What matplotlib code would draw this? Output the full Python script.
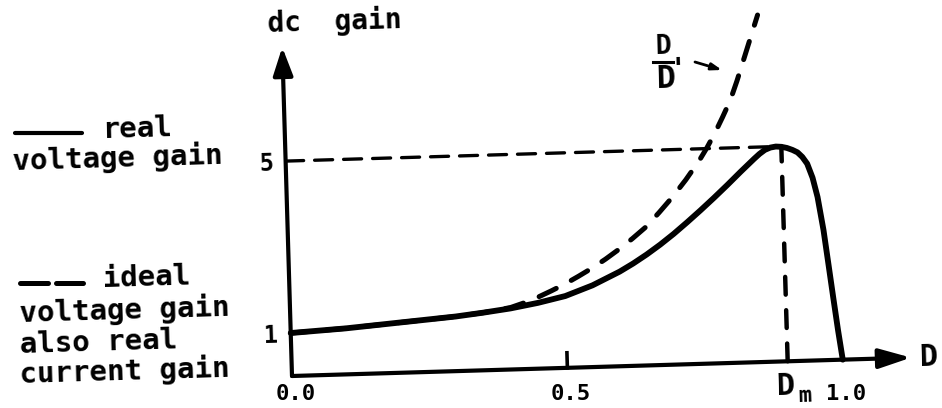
import numpy as np
import matplotlib.pyplot as plt
from matplotlib.transforms import Affine2D
from matplotlib.lines import Line2D
from matplotlib.patches import FancyArrowPatch

W, H = 942, 408

# duty cycle D and dc gain
d_real = [0.0, 0.10, 0.20, 0.30, 0.35, 0.40, 0.45, 0.50, 0.55, 0.60, 0.625,
          0.65, 0.675, 0.70, 0.725, 0.75, 0.775, 0.80, 0.825, 0.85, 0.86,
          0.87, 0.88, 0.89, 0.90, 0.91, 0.92, 0.929, 0.9375, 0.946, 0.955,
          0.963, 0.972, 0.979, 0.986, 0.993, 1.0]
g_real = [1.0, 1.07, 1.17, 1.27, 1.34, 1.42, 1.53, 1.67, 1.90, 2.20, 2.38,
          2.58, 2.80, 3.04, 3.30, 3.57, 3.85, 4.14, 4.44, 4.73, 4.84,
          4.93, 4.98, 5.0, 4.99, 4.96, 4.91, 4.85, 4.74, 4.58, 4.25,
          3.80, 3.03, 2.25, 1.46, 0.69, 0.0]

d_ideal = [0.0, 0.10, 0.20, 0.30, 0.35, 0.40, 0.425, 0.45, 0.475, 0.50,
           0.525, 0.55, 0.575, 0.60, 0.625, 0.65, 0.675, 0.70, 0.725, 0.75,
           0.765, 0.78, 0.795, 0.81, 0.823, 0.836, 0.85, 0.864]
g_ideal = [1.0, 1.07, 1.17, 1.27, 1.34, 1.44, 1.54, 1.66, 1.80, 1.95,
           2.12, 2.30, 2.50, 2.72, 2.96, 3.22, 3.55, 3.90, 4.29, 4.72,
           5.02, 5.35, 5.72, 6.11, 6.55, 7.03, 7.55, 8.07]

d_peak, g_peak = 0.89, 5.0
d_m = 0.90
x_ticks = [0.0, 0.5, 1.0]
x_tick_labels = ['0.0', '0.5', '1.0']
y_ticks = [1, 5]
y_tick_labels = ['1', '5']

mono = 'DejaVu Sans Mono'
fw = 'bold'

fig = plt.figure(figsize=(W / 100, H / 100), dpi=100)
ax = fig.add_axes([0, 0, 1, 1])
ax.axis('off')

# the scan is a bit tilted, so draw in a rotated frame
tilt = 1.7
rot = ax.transData + Affine2D().rotate_deg_around(292, H - 376, tilt)

# axes with arrow heads
ax.annotate('', xy=(0, 7.65), xytext=(0, 0), xycoords=rot, textcoords=rot,
            arrowprops=dict(arrowstyle='-|>,head_length=1.7,head_width=0.6',
                            mutation_scale=10, lw=3, color='k',
                            shrinkA=0, shrinkB=0))
ax.annotate('', xy=(1.124, 0), xytext=(0, 0), xycoords=rot, textcoords=rot,
            arrowprops=dict(arrowstyle='-|>,head_length=1.95,head_width=0.6',
                            mutation_scale=10, lw=3, color='k',
                            shrinkA=0, shrinkB=0))
ax.plot([0.5, 0.5], [0, 0.35], transform=rot, color='k', lw=2.6)

# curves
ax.plot(d_ideal, g_ideal, transform=rot, color='k', lw=3.6,
        dashes=(3.8, 3.4), dash_capstyle='round', zorder=2)
ax.plot(d_real, g_real, transform=rot, color='k', lw=4.2,
        solid_capstyle='round', solid_joinstyle='round', zorder=3)

# helper lines at the peak
ax.plot([0, d_peak], [g_peak, g_peak], transform=rot, color='k', lw=2.4,
        dashes=(5.4, 3.3), dash_capstyle='round')
ax.plot([d_m, d_m], [0, g_peak], transform=rot, color='k', lw=3.2,
        dashes=(4, 3.5), dash_capstyle='round')

# tick labels
for x, lab in zip(x_ticks, x_tick_labels):
    ax.text(x + 0.006, -0.56, lab, ha='center', va='baseline',
            fontsize=16, family=mono, weight=fw)
for y, lab in zip(y_ticks, y_tick_labels):
    ax.text(-0.036, y - 0.04, lab, transform=rot, ha='center', va='center',
            rotation=tilt, rotation_mode='anchor', fontsize=17,
            family=mono, weight=fw)
ax.text(d_m - 0.005, -0.58, 'D', transform=rot, ha='center', va='center',
        rotation=tilt, rotation_mode='anchor', fontsize=22, family=mono,
        weight=fw)
ax.text(d_m + 0.029, -0.82, 'm', transform=rot, ha='center', va='center',
        rotation=tilt, rotation_mode='anchor', fontsize=16, family=mono,
        weight=fw)
ax.text(1.14, 0, 'D', transform=rot, ha='left', va='center',
        rotation=tilt, rotation_mode='anchor', fontsize=22, family=mono,
        weight=fw)

ax.set_xlim(-292 / 551, (W - 292) / 551)
ax.set_ylim((376 - H) / 43, 376 / 43)


def ftext(x, y, s, size=21, **kw):
    fig.text(x / W, 1 - y / H, s, fontsize=size, family=mono, weight=fw,
             rotation=tilt, rotation_mode='anchor', **kw)


def fline(xs, ys, **kw):
    fig.add_artist(Line2D([x / W for x in xs], [1 - y / H for y in ys],
                          transform=fig.transFigure, color='k', **kw))


ftext(268, 32, 'dc  gain', size=20, va='baseline')

# legend block on the left
fline([15, 82], [133, 133], lw=3, solid_capstyle='round')
ftext(103, 138, 'real', va='baseline')
ftext(13, 170, 'voltage gain', va='baseline')
fline([20, 48], [283, 283], lw=3.6, solid_capstyle='round')
fline([56, 83], [283, 283], lw=3.6, solid_capstyle='round')
ftext(103, 287, 'ideal', va='baseline')
ftext(20, 322, 'voltage gain', va='baseline')
ftext(20, 353, 'also real', va='baseline')
ftext(20, 383, 'current gain', va='baseline')

# D/D' label with leader
ftext(663, 47, 'D', size=19, ha='center', va='center')
fline([653, 673], [62, 62], lw=2.2)
ftext(666, 79, 'D', size=23, ha='center', va='center')
ftext(678, 70, "'", size=20, ha='center', va='center')
fig.add_artist(FancyArrowPatch(
    (695 / W, 1 - 62 / H), (722 / W, 1 - 70 / H), transform=fig.transFigure,
    arrowstyle='-|>,head_length=0.6,head_width=0.2', mutation_scale=10,
    lw=2, color='k', shrinkA=0, shrinkB=0))

fig.savefig('out.png', dpi=100)
